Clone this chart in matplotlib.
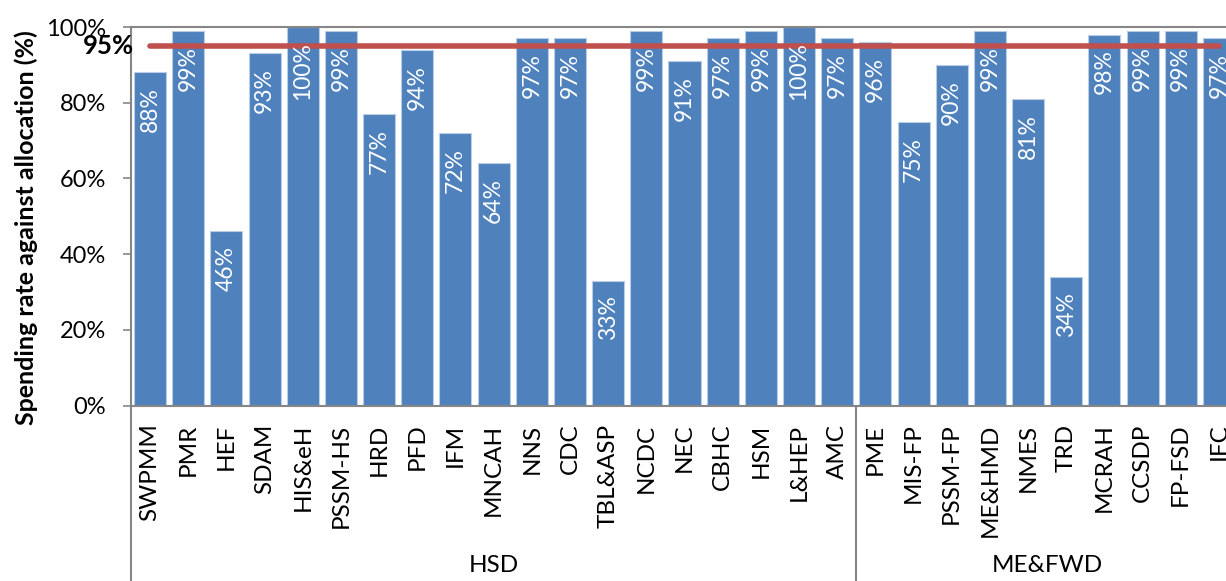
"""Spending rate against allocation, by programme (HSD and ME&FWD)"""

import matplotlib
matplotlib.use('Agg')
from matplotlib import pyplot as plt
from matplotlib import transforms as mtrans

##############
### inputs ###
##############

hsd_names = ['SWPMM', 'PMR', 'HEF', 'SDAM', 'HIS&eH', 'PSSM-HS', 'HRD', 'PFD',
             'IFM', 'MNCAH', 'NNS', 'CDC', 'TBL&ASP', 'NCDC', 'NEC', 'CBHC',
             'HSM', 'L&HEP', 'AMC']
hsd_rates = [88, 99, 46, 93, 100, 99, 77, 94, 72, 64, 97, 97, 33, 99, 91, 97,
             99, 100, 97]
mef_names = ['PME', 'MIS-FP', 'PSSM-FP', 'ME&HMD', 'NMES', 'TRD', 'MCRAH',
             'CCSDP', 'FP-FSD', 'IFC']
mef_rates = [96, 75, 90, 99, 81, 34, 98, 99, 99, 97]
groups = ['HSD', 'ME&FWD']
target = 95

bar_color = '#4F81BD'
line_color = '#C0504D'
axis_gray = '#868686'

############
### MAIN ###
############

plt.rcParams['font.family'] = ['Lato', 'DejaVu Sans']

names = hsd_names + mef_names
rates = hsd_rates + mef_rates
x = list(range(len(names)))

f = plt.figure(figsize=(12.26, 5.81), dpi=100)
# axes runs past the right edge of the picture, like the cropped original
ax = f.add_axes([131/1226, 175.5/581, 1107/1226, 378.5/581])

ax.bar(x, rates, width=0.84, color=bar_color, edgecolor='#B9CDE5',
       linewidth=0.8, zorder=2)
ax.plot(x, [target] * len(x), color=line_color, lw=4, zorder=3,
        solid_capstyle='round')
ax.annotate('%d%%' % target, xy=(0, target), xytext=(-16, 0),
            textcoords='offset pixels', ha='right', va='center',
            fontsize=18.5, fontweight='bold', zorder=4, annotation_clip=False)

# value labels, inside end of the bars
for i, v in zip(x, rates):
    ax.annotate('%d%%' % v, xy=(i, v), xytext=(0, -15),
                textcoords='offset pixels', ha='center', va='top',
                rotation=90, color='white', fontsize=16.5, zorder=4)

ax.set_xlim(-0.5, len(names) - 0.5)
ax.set_ylim(0, 100)
ax.set_yticks([0, 20, 40, 60, 80, 100])
ax.set_yticklabels(['%d%%' % t for t in [0, 20, 40, 60, 80, 100]])
ax.tick_params(axis='y', labelsize=17, length=6, width=1.2, color=axis_gray,
               pad=12)
ax.set_xticks(x)
ax.set_xticklabels(names, rotation=90, fontsize=17.5, va='top', ha='center')
ax.tick_params(axis='x', length=0, pad=13)

for side in ['left', 'top', 'bottom', 'right']:
    ax.spines[side].set_color(axis_gray)
    ax.spines[side].set_linewidth(1.5)

ax.set_ylabel('Spending rate against allocation (%)', fontsize=18,
              fontweight='bold')
ax.yaxis.set_label_coords(-0.084, 0.47)

# group axis below the category labels
trans = mtrans.blended_transform_factory(ax.transData, ax.transAxes)
n_hsd = len(hsd_names)
ax.plot([-0.5, -0.5], [0, -0.47], color=axis_gray, lw=1.5, transform=trans,
        clip_on=False)
ax.plot([n_hsd - 0.5, n_hsd - 0.5], [0, -0.47], color=axis_gray, lw=1.5,
        transform=trans, clip_on=False)
ax.text((n_hsd - 1) / 2, -0.424, groups[0], transform=trans, ha='center',
        va='center', fontsize=17.5)
ax.text((n_hsd + len(names) - 1) / 2, -0.424, groups[1], transform=trans,
        ha='center', va='center', fontsize=17.5)

f.savefig('out.png', dpi=100)
